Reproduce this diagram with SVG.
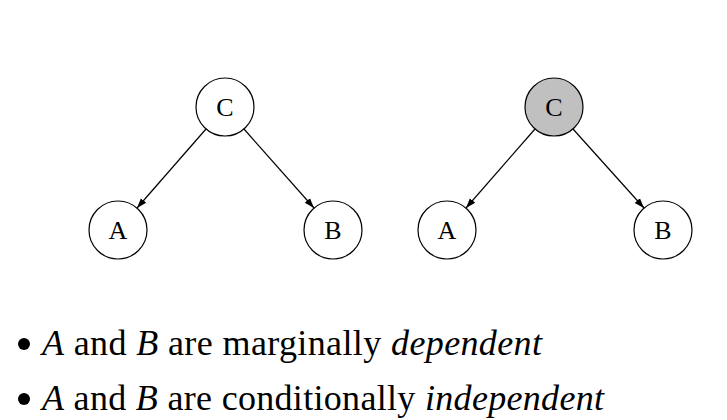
<svg xmlns="http://www.w3.org/2000/svg" width="727" height="420" viewBox="0 0 727 420">
<style>
.node circle{fill:#fff;stroke:#000;stroke-width:1.2}
.node.obs circle{fill:#c0c0c0}
.node text{font-size:26px;text-anchor:middle;fill:#000}
.edges line{stroke:#000;stroke-width:1.2;marker-end:url(#ah)}
.txt{font-size:36px;fill:#000}
.it{font-style:italic}
</style>
<defs>
<marker id="ah" viewBox="0 0 10 10" refX="10" refY="5" markerWidth="10" markerHeight="10" markerUnits="userSpaceOnUse" orient="auto">
<path d="M0,1.5 L10,5 L0,8.5 Z" fill="#000"/>
</marker>
</defs>
<rect width="727" height="420" fill="#fff"/>
<g class="edges">
<line x1="206" y1="129" x2="137" y2="208"/>
<line x1="244" y1="129" x2="314" y2="208"/>
<line x1="535" y1="129" x2="466" y2="208"/>
<line x1="573" y1="129" x2="644" y2="208"/>
</g>
<g font-family="'Liberation Serif', 'DejaVu Serif', serif">
<g id="C1" class="node"><circle cx="225" cy="107" r="29"/><text x="225" y="116">C</text></g>
<g id="A1" class="node"><circle cx="118" cy="230" r="29"/><text x="118" y="239">A</text></g>
<g id="B1" class="node"><circle cx="333" cy="230" r="29"/><text x="333" y="239">B</text></g>
<g id="C2" class="node obs"><circle cx="554" cy="107" r="29"/><text x="554" y="116">C</text></g>
<g id="A2" class="node"><circle cx="447" cy="230" r="29"/><text x="447" y="239">A</text></g>
<g id="B2" class="node"><circle cx="663" cy="230" r="29"/><text x="663" y="239">B</text></g>
<g id="bullets">
<circle cx="24" cy="344" r="6" fill="#000"/>
<text class="txt" x="42" y="355" textLength="500" lengthAdjust="spacing"><tspan class="it">A</tspan> and <tspan class="it">B</tspan> are marginally <tspan class="it">dependent</tspan></text>
<circle cx="24" cy="399" r="6" fill="#000"/>
<text class="txt" x="42" y="410" textLength="562" lengthAdjust="spacing"><tspan class="it">A</tspan> and <tspan class="it">B</tspan> are conditionally <tspan class="it">independent</tspan></text>
</g>
</g>
</svg>
